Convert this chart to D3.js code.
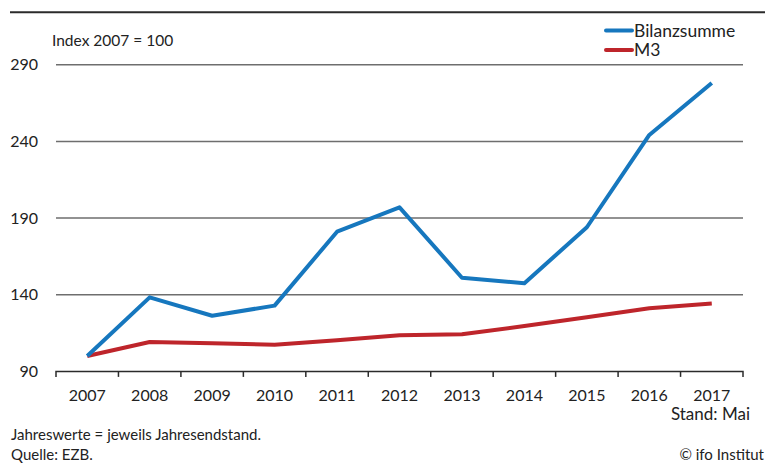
<!DOCTYPE html>
<html>
<head>
<meta charset="utf-8">
<script src="https://cdn.jsdelivr.net/npm/d3@7"></script>
<style>
  body { margin: 0; background: #fff; }
  svg { font-family: Lato, 'Open Sans', sans-serif; }
  .grid-line { stroke: #6e6e6e; stroke-width: 1.5; }
  .line { fill: none; stroke-width: 4; stroke-linejoin: round; }
  text { fill: #222; }
</style>
</head>
<body>
<div id="chart"></div>
<script>
const years = ['2007', '2008', '2009', '2010', '2011', '2012', '2013', '2014', '2015', '2016', '2017']
const bilanzsumme = [100, 138.3, 126.3, 132.9, 181.1, 197.0, 151.1, 147.5, 184.0, 244.2, 278.1]
const m3 = [100, 109.2, 108.3, 107.4, 110.3, 113.5, 114.2, 119.6, 125.3, 131.2, 134.2]
const yTickValues = [90, 140, 190, 240, 290]
const seriesNames = ['Bilanzsumme', 'M3']

const colors = {
  Bilanzsumme: '#1677be',
  M3: '#be252b'
}

const width = 768
const height = 463
const margin = { top: 64.7, right: 25, bottom: 91.6, left: 56 }
const chartWidth = width - margin.left - margin.right
const chartHeight = height - margin.top - margin.bottom

const series = [
  { id: 'Bilanzsumme', values: bilanzsumme },
  { id: 'M3', values: m3 }
]

const svg = d3.select('#chart')
  .append('svg')
  .attr('width', width)
  .attr('height', height)

// top rule
svg.append('line')
  .attr('x1', 10).attr('x2', 765)
  .attr('y1', 12.3).attr('y2', 12.3)
  .attr('stroke', '#2b2b2b')
  .attr('stroke-width', 2)

const xScale = d3.scaleBand()
  .domain(years)
  .range([0, chartWidth])

const yScale = d3.scaleLinear()
  .domain([90, 290])
  .range([chartHeight, 0])

const container = svg.append('g')
  .attr('transform', `translate(${margin.left},${margin.top})`)

// grid lines
container.append('g')
  .selectAll('line')
  .data(yTickValues.filter((d) => d !== 90))
  .enter()
  .append('line')
  .attr('class', 'grid-line')
  .attr('x1', 0)
  .attr('x2', chartWidth)
  .attr('y1', (d) => yScale(d))
  .attr('y2', (d) => yScale(d))

// y labels
container.append('g')
  .selectAll('text')
  .data(yTickValues)
  .enter()
  .append('text')
  .attr('x', -18)
  .attr('y', (d) => yScale(d))
  .attr('dy', '0.35em')
  .attr('text-anchor', 'end')
  .style('font-size', '16px')
  .text((d) => d)

// x axis
const xAxis = d3.axisBottom(xScale)
  .tickSize(0)
  .tickPadding(18)

const xAxisG = container.append('g')
  .attr('transform', `translate(0,${chartHeight})`)
  .call(xAxis)

xAxisG.select('.domain')
  .attr('stroke', '#2b2b2b')
  .attr('stroke-width', 1.5)
  .attr('d', `M0,5.5V0H${chartWidth}V5.5`)

xAxisG.selectAll('.tick text')
  .style('font-size', '16px')
  .style('font-family', 'Lato, sans-serif')
  .attr('fill', '#222')

// band edge ticks
xAxisG.append('g')
  .selectAll('line')
  .data(years.slice(1))
  .enter()
  .append('line')
  .attr('x1', (d) => xScale(d))
  .attr('x2', (d) => xScale(d))
  .attr('y1', 0)
  .attr('y2', 5.5)
  .attr('stroke', '#2b2b2b')
  .attr('stroke-width', 1.5)

// lines
const line = d3.line()
  .x((d, i) => xScale(years[i]) + xScale.bandwidth() / 2)
  .y((d) => yScale(d))

container.append('g')
  .selectAll('path')
  .data(series.slice().reverse())
  .enter()
  .append('path')
  .attr('class', 'line')
  .attr('d', (d) => line(d.values))
  .attr('stroke', (d) => colors[d.id])

// legend
const legend = svg.append('g')
  .selectAll('g')
  .data(seriesNames)
  .enter()
  .append('g')
  .attr('transform', (d, i) => `translate(606,${30.5 + i * 19.5})`)

legend.append('line')
  .attr('x1', 0).attr('x2', 26)
  .attr('stroke', (d) => colors[d])
  .attr('stroke-width', 4)
  .attr('stroke-linecap', 'round')

legend.append('text')
  .attr('x', 28)
  .attr('dy', '0.36em')
  .style('font-size', '17.5px')
  .text((d) => d)

// annotations
svg.append('text')
  .attr('x', 52)
  .attr('y', 45.7)
  .style('font-size', '15.5px')
  .text('Index 2007 = 100')

svg.append('text')
  .attr('x', 750)
  .attr('y', 420)
  .attr('text-anchor', 'end')
  .style('font-size', '17px')
  .text('Stand: Mai')

svg.append('text')
  .attr('x', 11)
  .attr('y', 439.5)
  .style('font-size', '15px')
  .text('Jahreswerte = jeweils Jahresendstand.')

svg.append('text')
  .attr('x', 11)
  .attr('y', 460)
  .style('font-size', '15px')
  .text('Quelle: EZB.')

svg.append('text')
  .attr('x', 764)
  .attr('y', 460)
  .attr('text-anchor', 'end')
  .style('font-size', '15px')
  .text('© ifo Institut')
</script>
</body>
</html>
